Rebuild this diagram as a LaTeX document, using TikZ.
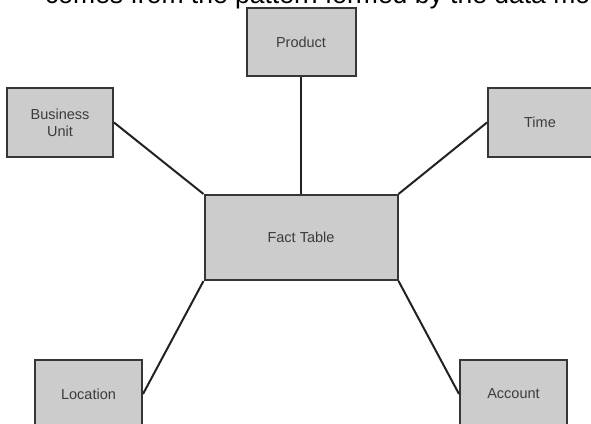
\documentclass[tikz,border=0pt]{standalone}
\usepackage{fontspec}
\setmainfont{Liberation Sans}
\definecolor{boxfill}{HTML}{CCCCCC}
\definecolor{boxedge}{HTML}{363636}
\definecolor{linkcol}{HTML}{222222}
\definecolor{labelcol}{HTML}{3C3C3C}
\begin{document}
\begin{tikzpicture}[x=1pt,y=-1pt,
  dimbox/.style={draw=boxedge, line width=2pt, fill=boxfill, rectangle,
    inner sep=0pt, align=center, text=labelcol,
    font=\fontsize{14.5}{17}\selectfont},
  link/.style={draw=linkcol, line width=2pt}]
\useasboundingbox (0,0) rectangle (591,423);
% running text of the page above the figure
\node[anchor=base west, inner sep=0pt, font=\fontsize{26.5}{30}\selectfont]
  (caption) at (45,3) {comes from the pattern formed by the data model};
% star schema: fact table in the centre, dimension tables around it
\node[dimbox, minimum width=193pt, minimum height=85pt] (fact)  at (301,237.5) {Fact Table};
\node[dimbox, minimum width=109pt, minimum height=68pt] (prod)  at (301,42) {Product};
\node[dimbox, minimum width=106pt, minimum height=69pt] (bu)    at (60,122.5) {Business\\Unit};
\node[dimbox, minimum width=104pt, minimum height=69pt] (time)  at (540,122.5) {Time};
\node[dimbox, minimum width=107pt, minimum height=68pt] (loc)   at (88.5,394) {Location};
\node[dimbox, minimum width=107pt, minimum height=68pt] (acc)   at (513.5,394) {Account};
\draw[link] (prod.south) -- (fact.north);
\draw[link] (bu.east)    -- (fact.north west);
\draw[link] (time.west)  -- (fact.north east);
\draw[link] (loc.east)   -- (fact.south west);
\draw[link] (acc.west)   -- (fact.south east);
\end{tikzpicture}
\end{document}
